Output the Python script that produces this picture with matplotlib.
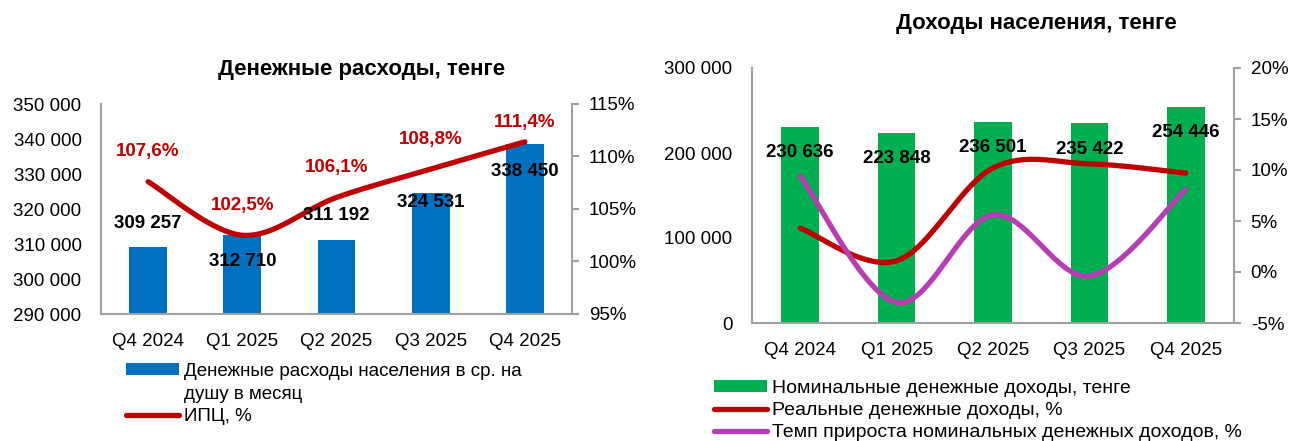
import matplotlib
matplotlib.use("Agg")
import matplotlib.pyplot as plt
import numpy as np
from matplotlib.patches import Patch
from matplotlib.lines import Line2D
from matplotlib.ticker import FuncFormatter, MultipleLocator

plt.rcParams['font.family'] = ['Liberation Sans', 'DejaVu Sans']

# ---------------- data ----------------
quarters = ["Q4 2024", "Q1 2025", "Q2 2025", "Q3 2025", "Q4 2025"]

spend = [309257, 312710, 311192, 324531, 338450]
cpi = [107.6, 102.5, 106.1, 108.8, 111.4]

income_nominal = [230636, 223848, 236501, 235422, 254446]
income_real = [4.3, 1.1, 10.2, 10.6, 9.7]
income_growth = [9.4, -3.0, 5.6, -0.4, 8.1]

# ---------------- style ----------------
BLUE = "#0070C0"
GREEN = "#00B050"
RED = "#C00000"
PURPLE = "#B83DB5"
AXIS = "#A0A0A0"

W, H = 1294, 441
fig = plt.figure(figsize=(W / 100, H / 100), dpi=100)


def px_axes(x0, y0, x1, y1):
    return fig.add_axes([x0 / W, 1 - y1 / H, (x1 - x0) / W, (y1 - y0) / H])


def smooth(x, y, n=40):
    x = np.asarray(x, float)
    y = np.asarray(y, float)
    P = np.column_stack([x, y])
    Pe = np.vstack([P[0], P, P[-1]])
    out = []
    t = np.linspace(0, 1, n)[:, None]
    for i in range(len(P) - 1):
        p0, p1, p2, p3 = Pe[i], Pe[i + 1], Pe[i + 2], Pe[i + 3]
        c1 = p1 + (p2 - p0) / 6
        c2 = p2 - (p3 - p1) / 6
        seg = ((1 - t) ** 3) * p1 + 3 * ((1 - t) ** 2) * t * c1 + 3 * (1 - t) * t ** 2 * c2 + t ** 3 * p2
        out.append(seg if i == 0 else seg[1:])
    out = np.vstack(out)
    return out[:, 0], out[:, 1]


space_fmt = FuncFormatter(lambda v, p: f"{int(round(v)):,}".replace(",", " "))

TICK_FS = 13.5
LBL_FS = 13.5


def style_axes(ax, ax2):
    for a in (ax, ax2):
        for s in a.spines.values():
            s.set_visible(False)
    ax.spines['left'].set_visible(True)
    ax.spines['bottom'].set_visible(True)
    ax2.spines['right'].set_visible(True)
    for s in (ax.spines['left'], ax.spines['bottom'], ax2.spines['right']):
        s.set_color(AXIS)
        s.set_linewidth(1.5)
    ax.tick_params(axis='y', length=0, labelsize=TICK_FS, pad=14, colors='black')
    ax.tick_params(axis='x', length=0, labelsize=TICK_FS, pad=14, colors='black')
    ax2.tick_params(axis='y', length=5, width=1.5, color=AXIS, labelsize=TICK_FS, pad=7,
                    labelcolor='black', direction='out')


# ================= left chart =================
ax = px_axes(101, 104, 572, 314)
x = np.arange(len(quarters))
ax.bar(x, spend, width=0.4, color=BLUE, zorder=2)
ax.set_xlim(-0.5, len(quarters) - 0.5)
ax.set_ylim(290000, 350000)
ax.yaxis.set_major_locator(MultipleLocator(10000))
ax.yaxis.set_major_formatter(space_fmt)
ax.set_xticks(x)
ax.set_xticklabels(quarters)

ax2 = ax.twinx()
ax2.set_ylim(95, 115)
ax2.yaxis.set_major_locator(MultipleLocator(5))
ax2.yaxis.set_major_formatter(FuncFormatter(lambda v, p: f"{v:.0f}%"))
sx, sy = smooth(x, cpi)
ax2.plot(sx, sy, color=RED, lw=3.8, solid_capstyle='round', zorder=3)
style_axes(ax, ax2)

spend_off = [16.8, -19.1, 17.4, -6.4, -19.7]   # label offsets in points
for xi, v, off in zip(x, spend, spend_off):
    ax2.annotate(f"{v:,}".replace(",", " "), (xi, 95 + (v - 290000) / 3000), xytext=(0, off),
                 textcoords='offset points', ha='center', va='center', fontsize=LBL_FS,
                 fontweight='bold', color='black', zorder=5)
cpi_off = [21.6, 21.3, 21.6, 21.5, 13.7]
for xi, v, off in zip(x, cpi, cpi_off):
    ax2.annotate(f"{v:.1f}%".replace(".", ","), (xi, v), xytext=(0, off), textcoords='offset points',
                 ha='center', va='center', fontsize=LBL_FS, fontweight='bold', color=RED, zorder=5)

fig.text(362 / W, 1 - 70 / H, "Денежные расходы, тенге", ha='center', va='center',
         fontsize=16, fontweight='bold')

h_bar = Patch(facecolor=BLUE, edgecolor='none')
h_blank = Patch(facecolor='none', edgecolor='none')
h_line = Line2D([], [], color=RED, lw=3.8, solid_capstyle='round')
fig.legend([h_bar, h_blank, h_line],
           ["Денежные расходы населения в ср. на", "душу в месяц", "ИПЦ, %"],
           loc='upper left', bbox_to_anchor=(126 / W, 1 - 363 / H), frameon=False,
           fontsize=13.5, handlelength=2.8, handleheight=0.6, handletextpad=0.27,
           labelspacing=0.3, borderaxespad=0, borderpad=0)

# ================= right chart =================
bx = px_axes(752, 68, 1234, 323)
bx.bar(x, income_nominal, width=0.39, color=GREEN, zorder=2)
bx.set_xlim(-0.5, len(quarters) - 0.5)
bx.set_ylim(0, 300000)
bx.yaxis.set_major_locator(MultipleLocator(100000))
bx.yaxis.set_major_formatter(space_fmt)
bx.set_xticks(x)
bx.set_xticklabels(quarters)

bx2 = bx.twinx()
bx2.set_ylim(-5, 20)
bx2.yaxis.set_major_locator(MultipleLocator(5))
bx2.yaxis.set_major_formatter(FuncFormatter(lambda v, p: f"{v:.0f}%"))
rx, ry = smooth(x, income_real)
bx2.plot(rx, ry, color=RED, lw=3.8, solid_capstyle='round', zorder=3)
gx, gy = smooth(x, income_growth)
bx2.plot(gx, gy, color=PURPLE, lw=3.8, solid_capstyle='round', zorder=3)
style_axes(bx, bx2)

inc_off = [-18.5, -18.9, -18.2, -19.0, -18.7]
for xi, v, off in zip(x, income_nominal, inc_off):
    bx2.annotate(f"{v:,}".replace(",", " "), (xi, -5 + v / 12000), xytext=(0, off),
                 textcoords='offset points', ha='center', va='center', fontsize=LBL_FS,
                 fontweight='bold', color='black', zorder=5)

fig.text(1036 / W, 1 - 24 / H, "Доходы населения, тенге", ha='center', va='center',
         fontsize=16, fontweight='bold')

g_bar = Patch(facecolor=GREEN, edgecolor='none')
g_red = Line2D([], [], color=RED, lw=3.8, solid_capstyle='round')
g_pur = Line2D([], [], color=PURPLE, lw=3.8, solid_capstyle='round')
fig.legend([g_bar, g_red, g_pur],
           ["Номинальные денежные доходы, тенге", "Реальные денежные доходы, %",
            "Темп прироста номинальных денежных доходов, %"],
           loc='upper left', bbox_to_anchor=(714 / W, 1 - 380 / H), frameon=False,
           fontsize=14, handlelength=2.7, handleheight=0.6, handletextpad=0.27,
           labelspacing=0.26, borderaxespad=0, borderpad=0)

fig.savefig("out.png", dpi=100)
